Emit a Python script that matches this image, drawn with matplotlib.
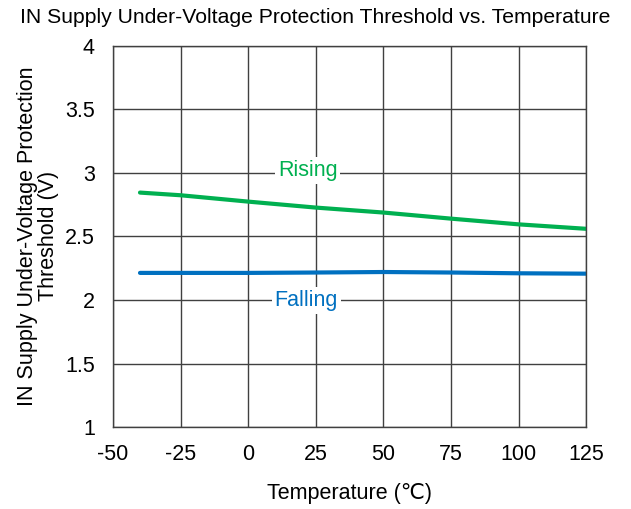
import matplotlib
matplotlib.use("Agg")
import matplotlib.pyplot as plt

plt.rcParams['font.family'] = ['Liberation Sans', 'DejaVu Sans']
plt.rcParams['axes.unicode_minus'] = False

temperature = [-40, -25, 0, 25, 50, 75, 100, 125]
rising = [2.845, 2.824, 2.774, 2.727, 2.688, 2.640, 2.595, 2.560]
falling = [2.213, 2.213, 2.213, 2.216, 2.220, 2.216, 2.210, 2.207]

x_ticks = [-50, -25, 0, 25, 50, 75, 100, 125]
y_ticks = [1, 1.5, 2, 2.5, 3, 3.5, 4]
y_tick_labels = ["1", "1.5", "2", "2.5", "3", "3.5", "4"]

green = "#00B050"
blue = "#0070C0"
fs = 15.5

fig = plt.figure(figsize=(6.31, 5.09), dpi=100)
ax = fig.add_axes([0.179, 0.161, 0.750, 0.749])

ax.plot(temperature, rising, color=green, lw=3, solid_capstyle='round')
ax.plot(temperature, falling, color=blue, lw=3, solid_capstyle='round')

ax.set_xlim(-50, 125)
ax.set_ylim(1, 4)
ax.set_xticks(x_ticks)
ax.set_yticks(y_ticks)
ax.set_yticklabels(y_tick_labels)
ax.tick_params(length=0, labelsize=fs)
ax.tick_params(axis='y', pad=13)
ax.tick_params(axis='x', pad=12)
ax.grid(True, color="#404040", lw=1)
ax.set_axisbelow(True)
for s in ax.spines.values():
    s.set_color("#404040")
    s.set_linewidth(1)

ax.text(22, 3.02, "Rising", color=green, fontsize=fs, ha='center', va='center',
        bbox=dict(facecolor='white', edgecolor='none', pad=2))
ax.text(21.5, 1.995, "Falling", color=blue, fontsize=fs, ha='center', va='center',
        bbox=dict(facecolor='white', edgecolor='none', pad=2))

ax.set_xlabel("Temperature (℃)", fontsize=fs, labelpad=13)
ax.set_ylabel("IN Supply Under-Voltage Protection\nThreshold (V)", fontsize=fs,
              labelpad=4, linespacing=1.05)
fig.text(0.5, 0.966, "IN Supply Under-Voltage Protection Threshold vs. Temperature",
         ha='center', va='center', fontsize=15.2)

fig.savefig("out.png", dpi=100)
